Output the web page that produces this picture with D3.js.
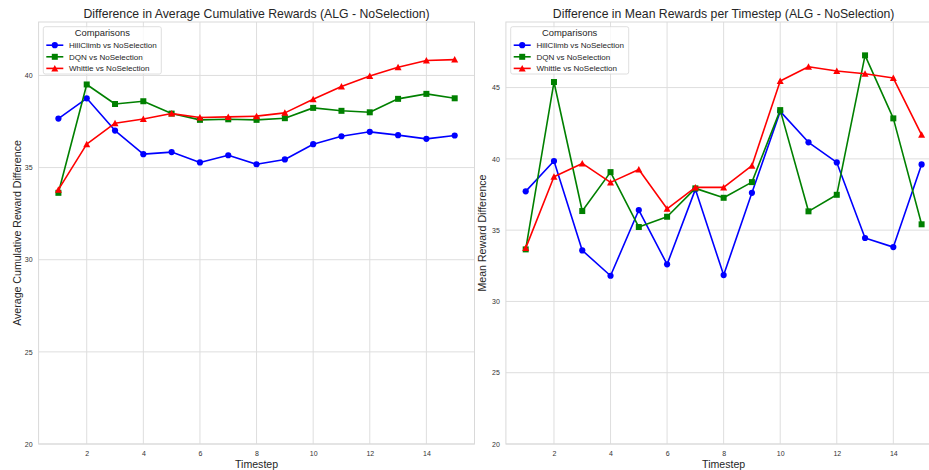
<!DOCTYPE html>
<html><head><meta charset="utf-8">
<script src="https://cdn.jsdelivr.net/npm/d3@7"></script>
<style>
html,body{margin:0;padding:0;background:#fff;overflow:hidden;}
text{font-family:"Liberation Sans",Arial,sans-serif;fill:#262626;}
</style></head><body>
<svg id="chart" width="929" height="470"></svg>
<script>
const timesteps = [1,2,3,4,5,6,7,8,9,10,11,12,13,14,15];
const seriesNames = ["HillClimb vs NoSelection","DQN vs NoSelection","Whittle vs NoSelection"];
const cumHill = [37.66,38.76,37.01,35.73,35.84,35.28,35.67,35.18,35.44,36.27,36.70,36.94,36.76,36.56,36.74];
const cumDQN = [33.63,39.51,38.45,38.60,37.93,37.59,37.62,37.59,37.68,38.24,38.08,38.00,38.73,39.00,38.76];
const cumWhittle = [33.80,36.27,37.41,37.64,37.93,37.72,37.75,37.79,37.97,38.71,39.40,39.97,40.44,40.81,40.86];
const meanHill = [37.72,39.85,33.58,31.80,36.41,32.60,37.86,31.85,37.62,43.33,41.16,39.75,34.45,33.81,39.61];
const meanDQN = [33.65,45.39,36.34,39.07,35.22,35.94,37.93,37.27,38.37,43.42,36.32,37.48,47.26,42.84,35.41];
const meanWhittle = [33.74,38.75,39.68,38.35,39.26,36.50,38.00,38.00,39.52,45.46,46.46,46.16,45.97,45.67,41.69];
const xTicks = [2,4,6,8,10,12,14];
const yTicksLeft = [20,25,30,35,40];
const yTicksRight = [20,25,30,35,40,45];
const colors = ["#0000ff","#008000","#ff0000"];
const markers = ["circle","square","triangle"];

const svg = d3.select("#chart");

function panel(opts){
  const {x0,x1,y0,y1,yMax,yTicks,title,ylabel,data,ylabelX,legendX} = opts;
  const x = d3.scaleLinear().domain([0.3,15.7]).range([x0,x1]);
  const y = d3.scaleLinear().domain([20,yMax]).range([y1,y0]);
  const g = svg.append("g");
  g.append("g").selectAll("line").data(xTicks).join("line")
    .attr("x1",d=>x(d)).attr("x2",d=>x(d)).attr("y1",y0).attr("y2",y1)
    .attr("stroke","#dedede").attr("stroke-width",1);
  g.append("g").selectAll("line").data(yTicks).join("line")
    .attr("x1",x0).attr("x2",x1).attr("y1",d=>y(d)).attr("y2",d=>y(d))
    .attr("stroke","#dedede").attr("stroke-width",1);
  g.append("rect").attr("x",x0).attr("y",y0).attr("width",x1-x0).attr("height",y1-y0)
    .attr("fill","none").attr("stroke","#d9d9d9").attr("stroke-width",1);
  const ax = d3.axisBottom(x).tickValues(xTicks).tickSize(0).tickPadding(7);
  const axg = g.append("g").attr("transform",`translate(0,${y1})`).call(ax);
  axg.select(".domain").remove();
  axg.selectAll("text").style("font-size","7px").style("fill","#333").attr("font-family","Liberation Sans, Arial, sans-serif");
  const ay = d3.axisLeft(y).tickValues(yTicks).tickSize(0).tickPadding(6);
  const ayg = g.append("g").attr("transform",`translate(${x0},0)`).call(ay);
  ayg.select(".domain").remove();
  ayg.selectAll("text").style("font-size","7px").style("fill","#333").attr("font-family","Liberation Sans, Arial, sans-serif");
  g.append("text").attr("x",(x0+x1)/2).attr("y",y0-3.7)
    .attr("text-anchor","middle").style("font-size","12.25px").text(title);
  g.append("text").attr("x",(x0+x1)/2).attr("y",y1+24)
    .attr("text-anchor","middle").style("font-size","10.6px").text("Timestep");
  g.append("text").attr("transform",`translate(${ylabelX},${(y0+y1)/2}) rotate(-90)`)
    .attr("text-anchor","middle").style("font-size","10.6px").text(ylabel);
  const line = d3.line().x((d,i)=>x(timesteps[i])).y(d=>y(d));
  data.forEach((s,k)=>{
    g.append("path").datum(s).attr("d",line).attr("fill","none")
      .attr("stroke",colors[k]).attr("stroke-width",1.6).attr("stroke-linejoin","round");
    const mg = g.append("g");
    s.forEach((v,i)=>drawMarker(mg,markers[k],x(timesteps[i]),y(v),colors[k]));
  });
  const lx = legendX, ly = 26.7, lw = 118, lh = 47.3;
  const lg = g.append("g");
  lg.append("rect").attr("x",lx).attr("y",ly).attr("width",lw).attr("height",lh)
    .attr("rx",2).attr("fill","#fff").attr("fill-opacity",0.8).attr("stroke","#d6d6d6").attr("stroke-width",0.8);
  lg.append("text").attr("x",lx+lw/2).attr("y",ly+9.6).attr("text-anchor","middle")
    .style("font-size","9.4px").text("Comparisons");
  seriesNames.forEach((n,k)=>{
    const ry = ly + 18.5 + k*11.6;
    lg.append("line").attr("x1",lx+3).attr("x2",lx+20).attr("y1",ry).attr("y2",ry)
      .attr("stroke",colors[k]).attr("stroke-width",1.6);
    drawMarker(lg,markers[k],lx+11.5,ry,colors[k]);
    lg.append("text").attr("x",lx+25.7).attr("y",ry+2.9).style("font-size","8.05px").text(n);
  });
}

function drawMarker(g,type,cx,cy,c){
  if(type==="circle") g.append("circle").attr("cx",cx).attr("cy",cy).attr("r",3.1).attr("fill",c);
  else if(type==="square") g.append("rect").attr("x",cx-3).attr("y",cy-3).attr("width",6).attr("height",6).attr("fill",c);
  else g.append("path").attr("d",`M${cx},${cy-3.5}L${cx+3.5},${cy+3}L${cx-3.5},${cy+3}Z`).attr("fill",c);
}

panel({x0:38.6,x1:474.5,y0:22,y1:444,yMax:42.9,yTicks:yTicksLeft,
  title:"Difference in Average Cumulative Rewards (ALG - NoSelection)",
  ylabel:"Average Cumulative Reward Difference",
  data:[cumHill,cumDQN,cumWhittle],ylabelX:20.5,legendX:43.3});
panel({x0:505.9,x1:941.4,y0:22,y1:444,yMax:49.6,yTicks:yTicksRight,
  title:"Difference in Mean Rewards per Timestep (ALG - NoSelection)",
  ylabel:"Mean Reward Difference",
  data:[meanHill,meanDQN,meanWhittle],ylabelX:486,legendX:510.7});
</script></body></html>
